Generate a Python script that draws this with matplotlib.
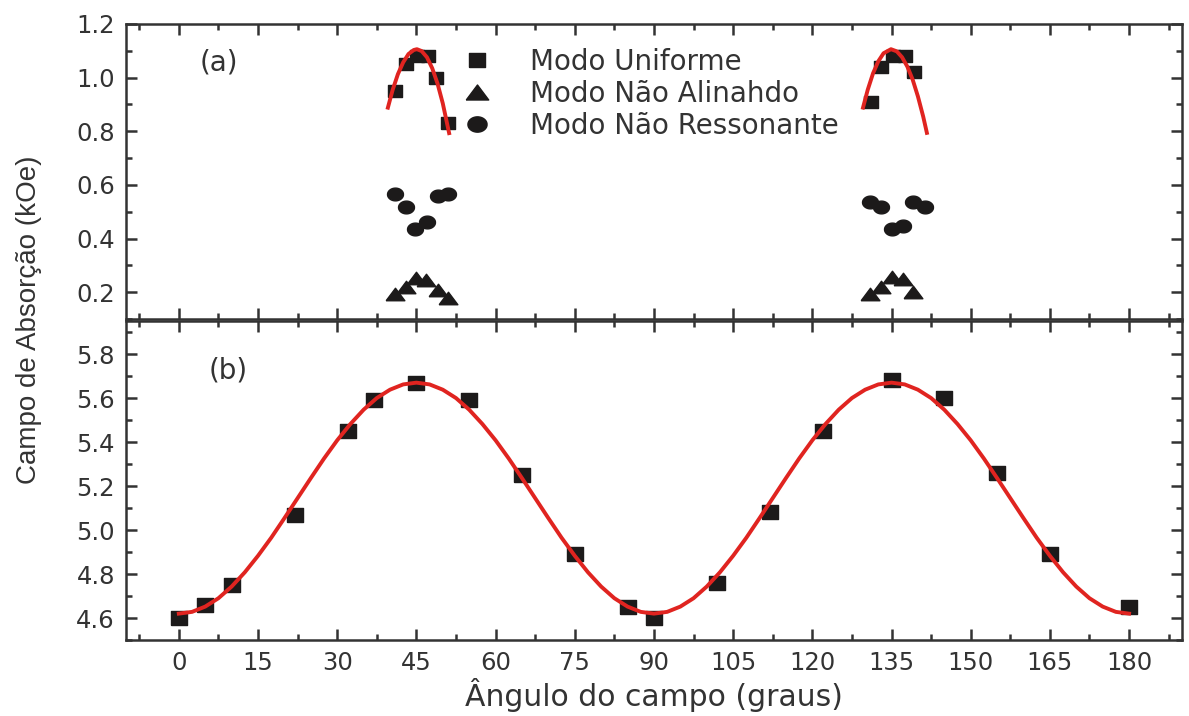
import numpy as np
import matplotlib
matplotlib.use('Agg')
import matplotlib.pyplot as plt
from matplotlib.ticker import MultipleLocator, FormatStrFormatter

# ---- painel (a): picos ao redor de 45 e 135 graus ----
uni_x = [40.9, 43.1, 45.1, 47.2, 48.8, 51.0, 131.2, 133.1, 135.3, 137.5, 139.3]
uni_y = [0.95, 1.05, 1.08, 1.08, 1.00, 0.83, 0.91, 1.04, 1.08, 1.08, 1.02]

nal_x = [40.9, 43.1, 45.0, 46.9, 49.1, 51.0, 131.0, 133.1, 135.0, 137.2, 139.1]
nal_y = [0.194, 0.219, 0.253, 0.244, 0.207, 0.179, 0.194, 0.219, 0.256, 0.250, 0.200]

nres_x = [40.9, 43.0, 44.7, 47.0, 49.1, 51.0, 131.0, 133.1, 135.0, 137.1, 139.1, 141.3]
nres_y = [0.566, 0.516, 0.435, 0.461, 0.557, 0.566, 0.537, 0.517, 0.437, 0.445, 0.537, 0.517]

# ajustes (curvas vermelhas)
fitA1_x = [39.6, 40.5, 41.5, 42.5, 43.5, 44.5, 45.1, 46.0, 47.0, 48.0, 49.0, 50.0, 51.2]
fitA1_y = [0.888, 0.954, 1.013, 1.057, 1.088, 1.103, 1.106, 1.099, 1.076, 1.035, 0.978, 0.904, 0.793]
fitA2_x = [129.6, 130.5, 131.5, 132.5, 133.5, 134.9, 136.0, 137.0, 138.0, 139.0, 140.0, 141.0, 141.7]
fitA2_y = [0.888, 0.955, 1.016, 1.061, 1.091, 1.106, 1.098, 1.076, 1.041, 0.993, 0.930, 0.855, 0.794]

# ---- painel (b) ----
ang = [0, 5, 10, 22, 32, 37, 45, 55, 65, 75, 85, 90, 102, 112, 122, 135, 145, 155, 165, 180]
campo = [4.60, 4.66, 4.75, 5.07, 5.45, 5.59, 5.67, 5.59, 5.25, 4.89,
         4.65, 4.60, 4.76, 5.08, 5.45, 5.68, 5.60, 5.26, 4.89, 4.65]

fitB_x = [0, 2.5, 5, 7.5, 10, 12.5, 15, 17.5, 20, 22.5, 25, 27.5, 30, 32.5, 35, 37.5, 40, 42.5,
          45, 47.5, 50, 52.5, 55, 57.5, 60, 62.5, 65, 67.5, 70, 72.5, 75, 77.5, 80, 82.5, 85, 87.5,
          90, 92.5, 95, 97.5, 100, 102.5, 105, 107.5, 110, 112.5, 115, 117.5, 120, 122.5, 125, 127.5,
          130, 132.5, 135, 137.5, 140, 142.5, 145, 147.5, 150, 152.5, 155, 157.5, 160, 162.5, 165,
          167.5, 170, 172.5, 175, 177.5, 180]
fitB_y = [4.620, 4.628, 4.652, 4.690, 4.743, 4.808, 4.883, 4.965, 5.054, 5.145, 5.236, 5.325,
          5.408, 5.482, 5.547, 5.600, 5.638, 5.662,
          5.670, 5.662, 5.638, 5.600, 5.547, 5.482, 5.408, 5.325, 5.236, 5.145, 5.054, 4.965,
          4.883, 4.808, 4.743, 4.690, 4.652, 4.628,
          4.620, 4.628, 4.652, 4.690, 4.743, 4.808, 4.883, 4.965, 5.054, 5.145, 5.236, 5.325,
          5.408, 5.482, 5.547, 5.600, 5.638, 5.662,
          5.670, 5.662, 5.638, 5.600, 5.547, 5.482, 5.408, 5.325, 5.236, 5.145, 5.054, 4.965,
          4.883, 4.808, 4.743, 4.690, 4.652, 4.628, 4.620]

xticks = list(range(0, 181, 15))

# marcadores um pouco achatados como na figura original
sq = [(-1.25, -1), (1.25, -1), (1.25, 1), (-1.25, 1), (-1.25, -1)]
tri = [(-1.5, -1), (1.5, -1), (0, 1), (-1.5, -1)]
t = np.linspace(0, 2 * np.pi, 40)
circ = list(zip(1.25 * np.cos(t), np.sin(t)))

ink = '#1c1a1a'
red = '#e02420'
gray = '#333333'

plt.rcParams['font.family'] = 'DejaVu Sans'

fig = plt.figure(figsize=(11.89, 7.16), dpi=100)
ax1 = fig.add_axes([0.106, 0.5545, 0.888, 0.412])
ax2 = fig.add_axes([0.106, 0.1061, 0.888, 0.4455])

ax1.plot(uni_x, uni_y, linestyle='none', marker=sq, ms=10, color=ink, label='Modo Uniforme')
ax1.plot(nal_x, nal_y, linestyle='none', marker=tri, ms=13.5, color=ink, label='Modo Não Alinahdo')
ax1.plot(nres_x, nres_y, linestyle='none', marker=circ, ms=11.5, color=ink, label='Modo Não Ressonante')
ax1.plot(fitA1_x, fitA1_y, color=red, lw=2.8, zorder=5)
ax1.plot(fitA2_x, fitA2_y, color=red, lw=2.8, zorder=5)

ax2.plot(ang, campo, linestyle='none', marker=sq, ms=12, color=ink)
ax2.plot(fitB_x, fitB_y, color=red, lw=2.8, zorder=5)

ax1.set_ylim(0.1, 1.2)
ax2.set_ylim(4.5, 5.95)
for ax in (ax1, ax2):
    ax.set_xlim(-10, 190)
    ax.set_xticks(xticks)
    ax.xaxis.set_minor_locator(MultipleLocator(7.5))
    ax.yaxis.set_minor_locator(MultipleLocator(0.1))
    ax.yaxis.set_major_formatter(FormatStrFormatter('%.1f'))
    ax.tick_params(which='both', direction='in', top=True, right=True,
                   color=gray, width=1.8, labelsize=17.5, labelcolor=gray)
    ax.tick_params(which='major', length=8, pad=8)
    ax.tick_params(which='minor', length=4)
    for s in ax.spines.values():
        s.set_linewidth(1.8)
        s.set_color(gray)

ax1.set_yticks([0.2, 0.4, 0.6, 0.8, 1.0, 1.2])
ax2.set_yticks([4.6, 4.8, 5.0, 5.2, 5.4, 5.6, 5.8])
ax1.tick_params(labelbottom=False)

ax1.text(0.070, 0.871, '(a)', transform=ax1.transAxes, fontsize=20, color=gray, va='center')
ax2.text(0.078, 0.846, '(b)', transform=ax2.transAxes, fontsize=20, color=gray, va='center')

leg = ax1.legend(loc='upper left', bbox_to_anchor=(0.319, 0.92), frameon=False, fontsize=20,
                 handlelength=1.0, handletextpad=1.4, labelspacing=0.15, borderpad=0,
                 borderaxespad=0, markerscale=1.2)
for txt in leg.get_texts():
    txt.set_color(gray)

ax2.set_xlabel('Ângulo do campo (graus)', fontsize=21.5, color=gray, labelpad=2)
fig.text(0.024, 0.553, 'Campo de Absorção (kOe)', rotation=90, ha='center', va='center',
         fontsize=20, color=gray, family=['Liberation Sans', 'DejaVu Sans'])

plt.savefig('out.png', dpi=100)
